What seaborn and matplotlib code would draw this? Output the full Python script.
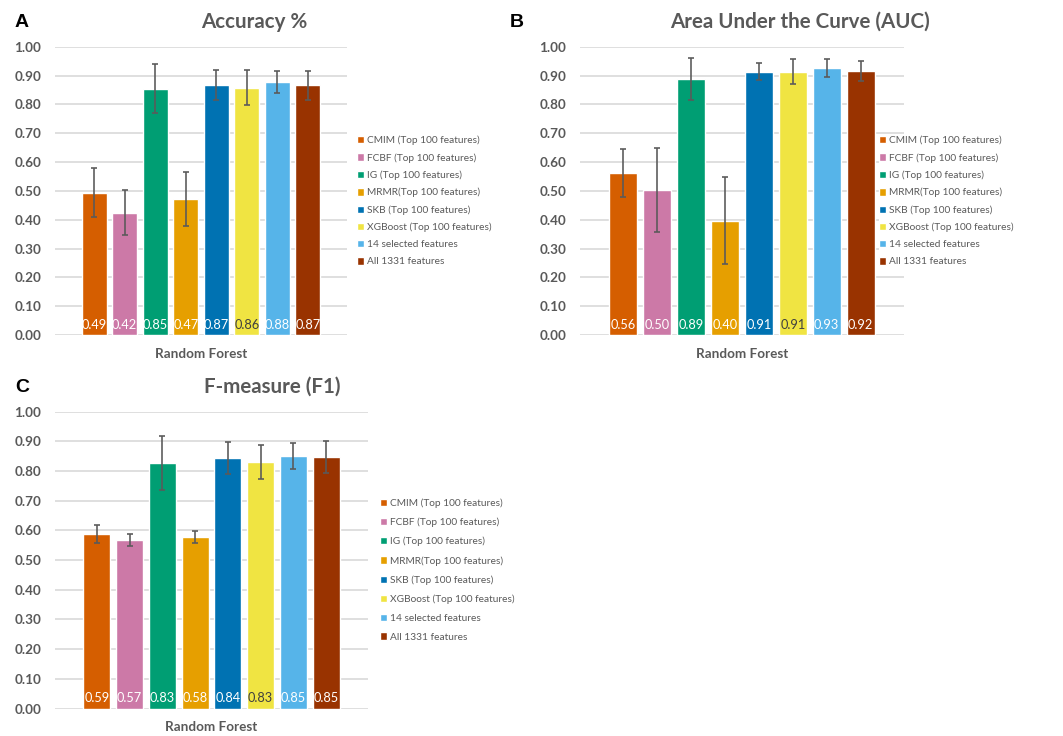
import numpy as np
import pandas as pd
import matplotlib
matplotlib.use("Agg")
import matplotlib.pyplot as plt
import seaborn as sns

# ---- data -------------------------------------------------------------
classifier = "Random Forest"
methods = [
    "CMIM (Top 100 features)",
    "FCBF (Top 100 features)",
    "IG (Top 100 features)",
    "MRMR(Top 100 features)",
    "SKB (Top 100 features)",
    "XGBoost (Top 100 features)",
    "14 selected features",
    "All 1331 features",
]
colors = ["#D55E00", "#CC79A7", "#009E73", "#E69F00",
          "#0072B2", "#F0E442", "#56B4E9", "#993300"]

accuracy = [0.493, 0.424, 0.854, 0.472, 0.868, 0.858, 0.878, 0.866]
accuracy_sd = [0.085, 0.078, 0.085, 0.094, 0.052, 0.060, 0.037, 0.051]

auc = [0.563, 0.503, 0.888, 0.397, 0.913, 0.913, 0.926, 0.916]
auc_sd = [0.083, 0.147, 0.074, 0.152, 0.029, 0.043, 0.032, 0.035]

f1 = [0.588, 0.567, 0.827, 0.578, 0.844, 0.831, 0.851, 0.848]
f1_sd = [0.031, 0.021, 0.092, 0.019, 0.054, 0.058, 0.045, 0.053]

y_ticks = [0.0, 0.1, 0.2, 0.3, 0.4, 0.5, 0.6, 0.7, 0.8, 0.9, 1.0]

# ---- style ------------------------------------------------------------
sns.set_theme(style="white")
plt.rcParams["font.family"] = ["Lato", "DejaVu Sans"]

W, H = 1063, 736
fig = plt.figure(figsize=(W / 100, H / 100), dpi=100)
GREY = "#595959"


def px_axes(left, top, right, bottom):
    return fig.add_axes([left / W, 1 - bottom / H, (right - left) / W, (bottom - top) / H])


panels = [
    # letter, title, values, sd, axes box (px), title pos, letter pos, legend pos, legend spacing
    ("A", "Accuracy %", accuracy, accuracy_sd, (55, 46.7, 347, 335),
     (254, 21.7), (22, 22.5), (357, 201), 0.78),
    ("B", "Area Under the Curve (AUC)", auc, auc_sd, (580, 46.7, 904, 335),
     (800, 21.7), (517, 22.5), (879, 201), 0.78),
    ("C", "F-measure (F1)", f1, f1_sd, (55, 411.7, 368, 708.5),
     (272, 386.7), (22, 387.5), (380, 570), 0.95),
]

for letter, title, vals, sds, box, tpos, lpos, legpos, lspace in panels:
    ax = px_axes(*box)
    df = pd.DataFrame({"classifier": classifier, "method": methods, "value": vals})
    sns.barplot(data=df, x="classifier", y="value", hue="method",
                hue_order=methods, palette=colors, width=0.837, gap=0.18,
                errorbar=None, saturation=1, ax=ax)

    handles, labels = ax.get_legend_handles_labels()
    if ax.get_legend() is not None:
        ax.get_legend().remove()

    # error bars and value labels placed on each drawn bar
    for cont, sd, col in zip(ax.containers, sds, colors):
        bar = cont.patches[0]
        xc = bar.get_x() + bar.get_width() / 2
        h = bar.get_height()
        ax.errorbar(xc, h, yerr=sd, fmt="none", ecolor="#5a5a5a",
                    elinewidth=1.3, capsize=2.2, capthick=1.3, alpha=0.9, zorder=4)
        txt_col = "#404040" if col == "#F0E442" else "white"
        ax.annotate(f"{h:.2f}", (xc, 0), xytext=(0, 7.3), textcoords="offset points",
                    ha="center", va="center", fontsize=9.2, color=txt_col, zorder=5)

    ax.set_ylim(0, 1.0)
    ax.set_xlim(-0.5, 0.5)
    ax.set_yticks(y_ticks)
    ax.set_yticklabels([f"{t:.2f}" for t in y_ticks])
    ax.yaxis.grid(True, color="#d9d9d9", linewidth=1.2)
    ax.set_axisbelow(True)
    for s in ax.spines.values():
        s.set_visible(False)
    ax.tick_params(axis="both", length=0, colors=GREY, labelsize=9.7)
    ax.tick_params(axis="y", pad=10)
    ax.tick_params(axis="x", pad=9)
    for lab in ax.get_yticklabels() + ax.get_xticklabels():
        lab.set_fontweight("bold")
    ax.set_xlabel("")
    ax.set_ylabel("")

    leg = ax.legend(handles, labels, loc="center left",
                    bbox_to_anchor=(legpos[0] / W, 1 - legpos[1] / H),
                    bbox_transform=fig.transFigure, frameon=True, fontsize=7.3,
                    handlelength=0.72, handleheight=0.72, handletextpad=0.3,
                    labelspacing=lspace, borderpad=0, borderaxespad=0,
                    labelcolor=GREY, fancybox=False)
    leg.get_frame().set_facecolor("white")
    leg.get_frame().set_edgecolor("none")
    leg.get_frame().set_alpha(1)

    fig.text(tpos[0] / W, 1 - tpos[1] / H, title, ha="center", va="center",
             fontsize=14.8, fontweight="bold", color=GREY)
    fig.text(lpos[0] / W, 1 - lpos[1] / H, letter, ha="center", va="center",
             fontsize=14, fontweight="bold", color="black",
             family=["Liberation Sans", "DejaVu Sans"])

fig.savefig("out.png", dpi=100, facecolor="white")
